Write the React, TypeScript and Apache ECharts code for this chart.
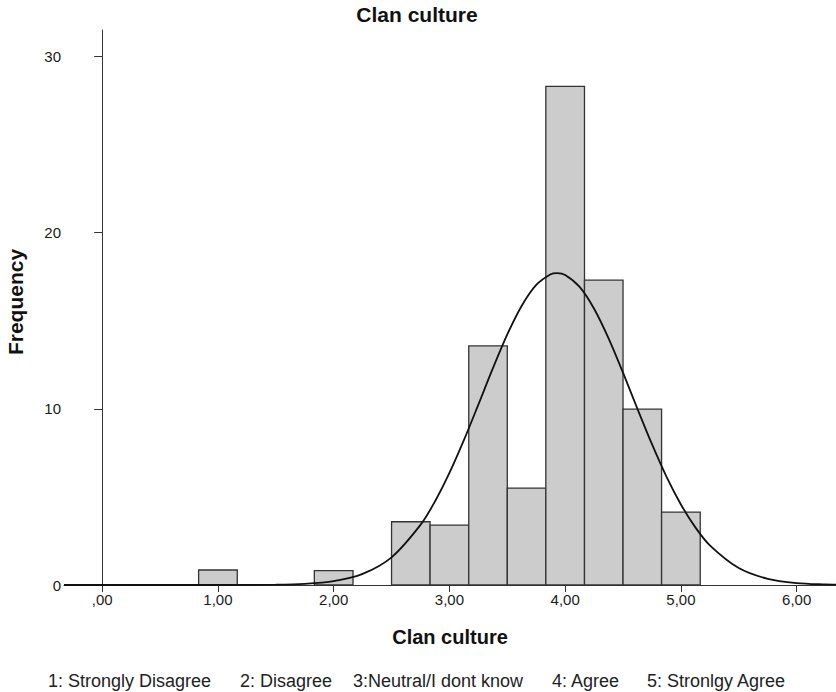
import React, { useEffect, useRef } from "react";
import * as echarts from "echarts";

// Histogram bins (Clan culture)
const binStart = [0.833, 1.833, 2.5, 2.833, 3.167, 3.5, 3.833, 4.167, 4.5, 4.833];
const binEnd = [1.167, 2.167, 2.833, 3.167, 3.5, 3.833, 4.167, 4.5, 4.833, 5.167];
const frequency = [0.85, 0.82, 3.59, 3.4, 13.57, 5.5, 28.3, 17.3, 9.98, 4.14];

// Normal curve
const curveX = [-0.33, 0, 0.5, 1, 1.5, 1.75, 2, 2.25, 2.5, 2.75, 2.875, 3, 3.125, 3.25, 3.375, 3.5, 3.625, 3.75, 3.875, 3.93, 4, 4.125, 4.25, 4.375, 4.5, 4.625, 4.75, 4.875, 5, 5.125, 5.25, 5.5, 5.75, 6, 6.25, 6.34];
const curveY = [0, 0, 0, 0.001, 0.016, 0.064, 0.22, 0.63, 1.57, 3.41, 4.74, 6.36, 8.22, 10.24, 12.29, 14.22, 15.85, 17.03, 17.64, 17.7, 17.6, 16.92, 15.68, 14.0, 12.05, 9.99, 7.99, 6.15, 4.57, 3.27, 2.25, 0.96, 0.35, 0.11, 0.03, 0.02];

const xTicks = [0, 1, 2, 3, 4, 5, 6];
const yTicks = [0, 10, 20, 30];

const titleText = "Clan culture";
const xName = "Clan culture";
const yName = "Frequency";
const footerLabels = ["1: Strongly Disagree", "2: Disagree", "3:Neutral/I dont know", "4: Agree", "5: Stronlgy Agree"];
const footerX = [48, 240, 353, 552, 647];

const FONT = "'Liberation Sans', Arial, sans-serif";

export default function App() {
  const ref = useRef<HTMLDivElement>(null);
  useEffect(() => {
    if (!ref.current) return;
    const chart = echarts.init(ref.current, null, { renderer: "svg" });
    const barData = binStart.map((s, i) => [s, binEnd[i], frequency[i]]);
    const curveData = curveX.map((x, i) => [x, curveY[i]]);
    chart.setOption({
      animation: false,
      grid: { left: 64, right: 0, top: 30, bottom: 107 },
      xAxis: {
        type: "value",
        min: -0.33,
        max: 6.34,
        axisLine: { show: true, onZero: false, lineStyle: { color: "#333", width: 1 } },
        axisTick: { show: true, customValues: xTicks, length: 7, lineStyle: { color: "#333" } },
        axisLabel: {
          customValues: xTicks,
          color: "#1a1a1a",
          fontSize: 15,
          fontFamily: FONT,
          margin: 7,
          formatter: (v: number) => (v === 0 ? ",00" : v.toFixed(2).replace(".", ",")),
        },
        splitLine: { show: false },
      },
      yAxis: {
        type: "value",
        min: 0,
        max: 31.5,
        axisLine: { show: true, lineStyle: { color: "#333", width: 1 } },
        axisTick: { show: true, customValues: yTicks, length: 8, lineStyle: { color: "#333" } },
        axisLabel: { customValues: yTicks, color: "#1a1a1a", fontSize: 15, fontFamily: FONT, margin: 3 },
        splitLine: { show: false },
      },
      series: [
        {
          type: "custom",
          data: barData,
          encode: { x: [0, 1], y: 2 },
          renderItem: (params: any, api: any) => {
            const s = api.value(0);
            const e = api.value(1);
            const v = api.value(2);
            const p0 = api.coord([s, 0]);
            const p1 = api.coord([e, v]);
            return {
              type: "rect",
              shape: { x: p0[0], y: p1[1], width: p1[0] - p0[0], height: p0[1] - p1[1] },
              style: { fill: "#cccccc", stroke: "#333", lineWidth: 1.3 },
            };
          },
          z: 2,
        },
        {
          type: "line",
          data: curveData,
          showSymbol: false,
          smooth: 0.3,
          lineStyle: { color: "#111", width: 1.8 },
          z: 5,
        },
      ],
      graphic: [
        {
          type: "text",
          x: 417,
          y: 14,
          style: { text: titleText, font: `bold 21px ${FONT}`, fill: "#111", align: "center", verticalAlign: "middle" },
        },
        {
          type: "text",
          x: 450,
          y: 637,
          style: { text: xName, font: `bold 20px ${FONT}`, fill: "#111", align: "center", verticalAlign: "middle" },
        },
        {
          type: "text",
          x: 15,
          y: 302,
          rotation: Math.PI / 2,
          style: { text: yName, font: `bold 21px ${FONT}`, fill: "#111", align: "center", verticalAlign: "middle" },
        },
        ...footerLabels.map((t, i) => ({
          type: "text",
          x: footerX[i],
          y: 681,
          style: { text: t, font: `18px ${FONT}`, fill: "#222", align: "left", verticalAlign: "middle" },
        })),
      ],
    });
    return () => chart.dispose();
  }, []);
  return <div ref={ref} style={{ position: "absolute", left: 0, top: 0, width: 836, height: 692 }} />;
}
